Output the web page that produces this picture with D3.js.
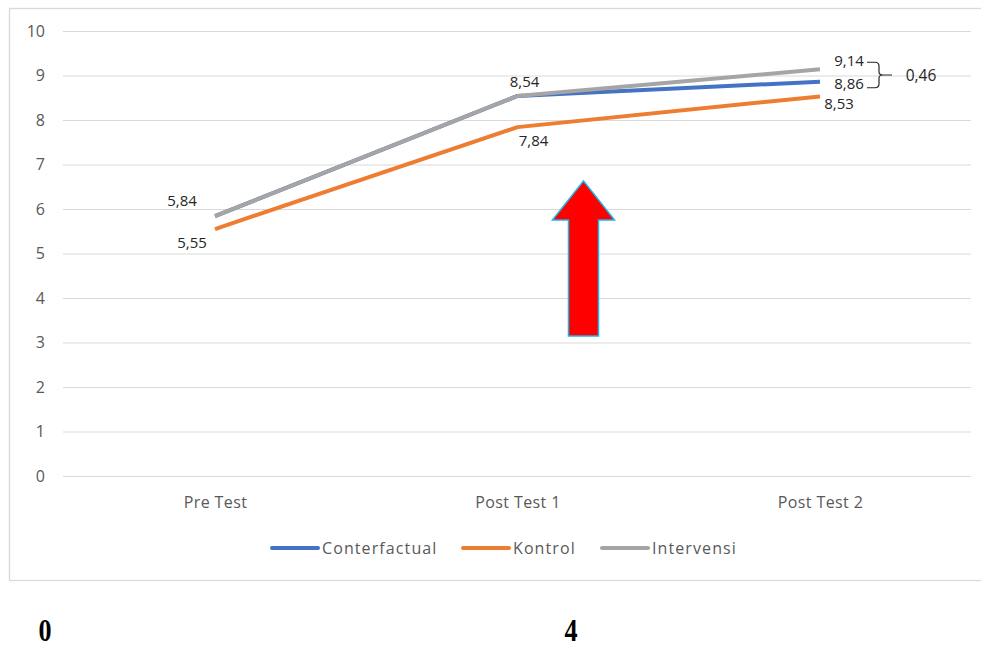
<!DOCTYPE html>
<html>
<head>
<meta charset="utf-8">
<script src="https://cdn.jsdelivr.net/npm/d3@7/dist/d3.min.js"></script>
<style>
  body { margin: 0; background: #fff; }
  svg text { font-family: "Open Sans", Lato, sans-serif; }
</style>
</head>
<body>
<svg id="chart" width="981" height="648"></svg>
<script>
const categories = ["Pre Test", "Post Test 1", "Post Test 2"];
const conterfactual = [5.84, 8.54, 8.86];
const kontrol = [5.55, 7.84, 8.53];
const intervensi = [5.84, 8.54, 9.14];
const yTicks = [0, 1, 2, 3, 4, 5, 6, 7, 8, 9, 10];
const seriesNames = ["Conterfactual", "Kontrol", "Intervensi"];
const diffLabel = "0,46";
const footerLabels = ["0", "4"];

const colors = ["#4472C4", "#ED7D31", "#A5A5A5"];
const FONT = "'Open Sans', Lato, sans-serif";
const svg = d3.select("#chart");

// frame
svg.append("rect").attr("x", 9.5).attr("y", 8.5).attr("width", 980).attr("height", 572)
  .attr("fill", "none").attr("stroke", "#d9d9d9").attr("stroke-width", 1.3);

const x = d3.scalePoint().domain(categories).range([215, 820]).padding(0);
const y = d3.scaleLinear().domain([0, 10]).range([476, 31]);

// gridlines
svg.append("g").selectAll("line").data(yTicks).join("line")
  .attr("x1", 63).attr("x2", 971)
  .attr("y1", d => y(d) + 0.5).attr("y2", d => y(d) + 0.5)
  .attr("stroke", "#d9d9d9").attr("stroke-width", 1);

// y axis labels
const yAxis = d3.axisLeft(y).tickValues(yTicks).tickSize(0).tickPadding(0);
const gy = svg.append("g").attr("transform", "translate(45,0)").call(yAxis);
gy.select(".domain").remove();
gy.selectAll("text").attr("fill", "#595959").style("font-size", "16px")
  .style("font-family", FONT);

// x axis labels
const xAxis = d3.axisBottom(x).tickSize(0).tickPadding(0);
const gx = svg.append("g").attr("transform", "translate(0,497)").call(xAxis);
gx.select(".domain").remove();
gx.selectAll("text").attr("fill", "#595959").style("font-size", "16px")
  .style("letter-spacing", "0.4px").style("font-family", FONT);

// lines
const allSeries = [conterfactual, kontrol, intervensi];
const line = d3.line().x((d, i) => x(categories[i])).y(d => y(d));
allSeries.forEach((s, k) => {
  svg.append("path").datum(s).attr("d", line).attr("fill", "none")
    .attr("stroke", colors[k]).attr("stroke-width", 4).attr("stroke-linejoin", "round");
});

// data labels
const fmt = v => d3.format(".2f")(v).replace(".", ",");
const labelSpecs = [
  {s: 2, i: 0, dx: -33, dy: -16},
  {s: 1, i: 0, dx: -23, dy: 13},
  {s: 2, i: 1, dx: 7, dy: -15},
  {s: 1, i: 1, dx: 16, dy: 13},
  {s: 2, i: 2, dx: 29, dy: -9},
  {s: 0, i: 2, dx: 29, dy: 1},
  {s: 1, i: 2, dx: 19, dy: 7}
];
svg.append("g").selectAll("text").data(labelSpecs).join("text")
  .attr("x", d => x(categories[d.i]) + d.dx)
  .attr("y", d => y(allSeries[d.s][d.i]) + d.dy)
  .attr("text-anchor", "middle").attr("dominant-baseline", "central")
  .attr("fill", "#262626").style("font-size", "15px")
  .text(d => fmt(allSeries[d.s][d.i]));

// bracket
const yTop = y(intervensi[2]) - 7, yBot = y(conterfactual[2]) + 6;
const yMid = (yTop + yBot) / 2;
const bx = x(categories[2]) + 59;
svg.append("path")
  .attr("d", `M${bx - 12},${yTop} H${bx - 4} Q${bx},${yTop} ${bx},${yTop + 4} V${yMid - 3} Q${bx},${yMid} ${bx + 4},${yMid} Q${bx},${yMid} ${bx},${yMid + 3} V${yBot - 4} Q${bx},${yBot} ${bx - 4},${yBot} H${bx - 12} M${bx + 2},${yMid} H${bx + 13}`)
  .attr("fill", "none").attr("stroke", "#262626").attr("stroke-width", 1.2);
svg.append("text").attr("x", bx + 42).attr("y", yMid).attr("text-anchor", "middle")
  .attr("dominant-baseline", "central").attr("fill", "#262626").style("font-size", "15.5px")
  .text(diffLabel);

// arrow
const ax = x(categories[1]) + 66;
const tipY = 181, headY = 220, botY = 336, hw = 31, sw = 15;
svg.append("path")
  .attr("d", `M${ax},${tipY} L${ax + hw},${headY} L${ax + sw},${headY} L${ax + sw},${botY} L${ax - sw},${botY} L${ax - sw},${headY} L${ax - hw},${headY} Z`)
  .attr("fill", "#FF0000").attr("stroke", "#1CB5EA").attr("stroke-width", 1.5);

// legend
const legendX = [272, 463, 602];
const lg = svg.append("g");
seriesNames.forEach((n, k) => {
  lg.append("line").attr("x1", legendX[k]).attr("x2", legendX[k] + 46)
    .attr("y1", 548).attr("y2", 548).attr("stroke", colors[k]).attr("stroke-width", 4)
    .attr("stroke-linecap", "round");
  lg.append("text").attr("x", legendX[k] + 50).attr("y", 548).attr("dominant-baseline", "central")
    .attr("fill", "#595959").style("font-size", "16px").style("letter-spacing", "1.1px").text(n);
});

// footer
const footX = [45, 571];
svg.append("g").selectAll("text").data(footerLabels).join("text")
  .attr("x", (d, i) => footX[i]).attr("y", 641).attr("text-anchor", "middle")
  .style("font-family", "'Liberation Serif', 'Times New Roman', serif")
  .style("font-weight", "bold").style("font-size", "29px").attr("fill", "#000")
  .attr("transform", (d, i) => `translate(${footX[i]},641) scale(0.9,1.08) translate(${-footX[i]},-641)`)
  .text(d => d);
</script>
</body>
</html>
